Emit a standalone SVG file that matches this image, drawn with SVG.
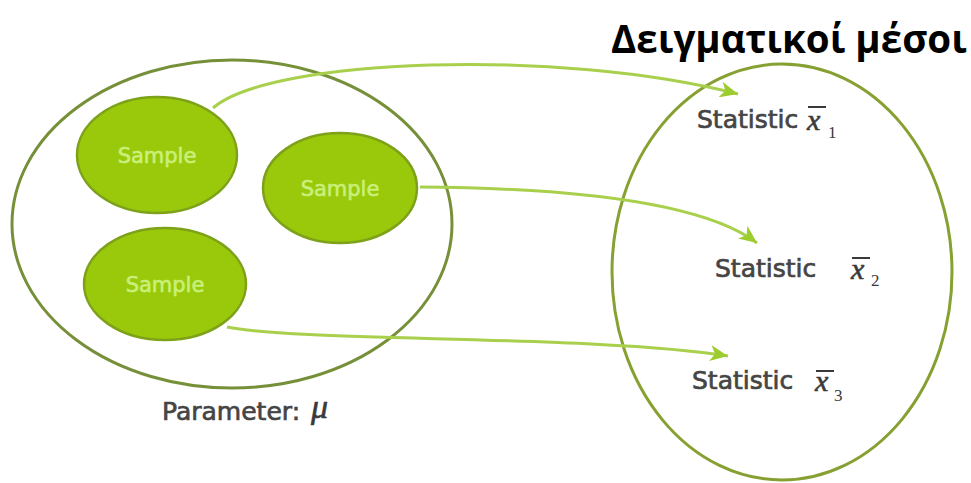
<svg xmlns="http://www.w3.org/2000/svg" width="971" height="483" viewBox="0 0 971 483">
<defs>
<style>
.outer{fill:none;stroke:#76903a;stroke-width:3}
.outerR{fill:none;stroke:#86a032;stroke-width:3}
.sample{fill:#99c90a;stroke:#7ea11a;stroke-width:2.5}
.stxt{font-family:"DejaVu Sans",sans-serif;font-size:21px;fill:#c9f07a;stroke:#c9f07a;stroke-width:0.6;text-anchor:middle}
.lbl{font-family:"DejaVu Sans",sans-serif;font-size:25px;fill:#454545;stroke:#454545;stroke-width:0.7}
.var{font-family:"Liberation Serif",serif;font-style:italic;fill:#3a3a3a;stroke:#3a3a3a;stroke-width:0.6}
.sub{font-family:"Liberation Serif",serif;font-size:17px;fill:#3a3a3a}
.conn{fill:none;stroke:#a8d04c;stroke-width:3}
.bar{stroke:#3a3a3a;stroke-width:2}
</style>
<marker id="ah" markerWidth="20" markerHeight="16" refX="18" refY="8" orient="auto" markerUnits="userSpaceOnUse">
<path d="M0,0 L18,8 L0,16 L5,8 Z" fill="#9ccc2e"/>
</marker>
</defs>
<rect width="971" height="483" fill="#ffffff"/>
<text x="611" y="53" font-family="Open Sans, sans-serif" font-weight="bold" font-size="38.5" fill="#000">Δειγματικοί μέσοι</text>
<g id="population">
<ellipse class="outer" cx="232" cy="224" rx="220" ry="164"/>
</g>
<g id="statistics">
<ellipse class="outerR" cx="782" cy="272" rx="170" ry="208"/>
</g>
<g id="sample1">
<ellipse class="sample" cx="157" cy="155" rx="80" ry="58"/>
<text class="stxt" x="157" y="163">Sample</text>
</g>
<g id="sample2">
<ellipse class="sample" cx="340" cy="188" rx="77" ry="55"/>
<text class="stxt" x="340" y="196">Sample</text>
</g>
<g id="sample3">
<ellipse class="sample" cx="165" cy="284" rx="81" ry="56"/>
<text class="stxt" x="165" y="292">Sample</text>
</g>
<g id="connectors">
<path class="conn" d="M213,108 C270,58 560,48 738,94" marker-end="url(#ah)"/>
<path class="conn" d="M420,187 C560,188 700,200 757,243" marker-end="url(#ah)"/>
<path class="conn" d="M227,327 C300,342 600,335 728,356" marker-end="url(#ah)"/>
</g>
<g id="stat1">
<text class="lbl" x="697" y="128">Statistic</text>
<text class="var" x="807" y="130" font-size="30">x</text>
<line class="bar" x1="808" y1="107" x2="826" y2="107"/>
<text class="sub" x="828" y="138">1</text>
</g>
<g id="stat2">
<text class="lbl" x="715" y="277">Statistic</text>
<text class="var" x="851" y="279" font-size="30">x</text>
<line class="bar" x1="852" y1="258" x2="870" y2="258"/>
<text class="sub" x="871" y="286">2</text>
</g>
<g id="stat3">
<text class="lbl" x="692" y="389">Statistic</text>
<text class="var" x="815" y="391" font-size="30">x</text>
<line class="bar" x1="816" y1="371" x2="834" y2="371"/>
<text class="sub" x="834" y="401">3</text>
</g>
<g id="parameter">
<text class="lbl" x="162" y="420">Parameter:</text>
<text class="var" x="311" y="418" font-size="34" fill="#111" stroke="#111">μ</text>
</g>
</svg>
